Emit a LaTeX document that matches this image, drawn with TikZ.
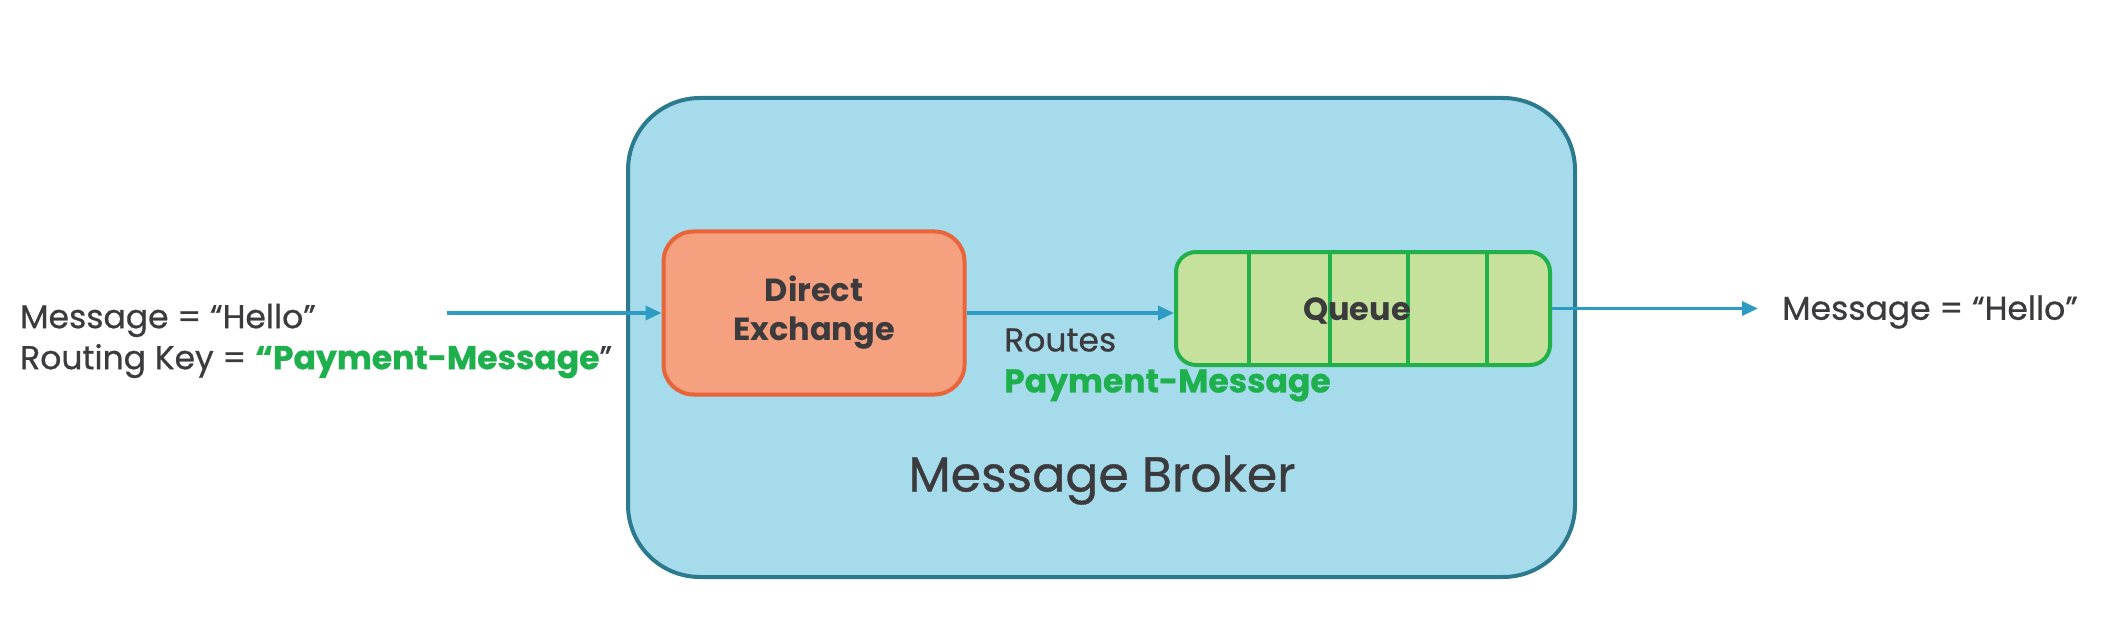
\documentclass[tikz,border=0pt]{standalone}
\usepackage{fontspec}
\setmainfont{Poppins}
\newfontfamily\medfont{Poppins}[FakeBold=0.7]
\usetikzlibrary{arrows.meta}
\definecolor{brokerfill}{HTML}{A6DBEB}
\definecolor{brokerline}{HTML}{2B7A8E}
\definecolor{exfill}{HTML}{F5A07F}
\definecolor{exline}{HTML}{E8643A}
\definecolor{qfill}{HTML}{C6E19B}
\definecolor{qline}{HTML}{22B04B}
\definecolor{arrowc}{HTML}{2E9CC2}
\definecolor{txt}{HTML}{3B3B3D}
\definecolor{grn}{HTML}{1EB04C}
\begin{document}
\begin{tikzpicture}[x=1pt,y=-1pt,
  flow/.style={draw=arrowc, line width=3.5pt, -{Triangle[length=16pt,width=14pt]}},
  lbl/.style={text=txt, font=\fontsize{33}{41}\selectfont\medfont, inner sep=0pt},
  boldlbl/.style={text=txt, font=\fontsize{32}{39}\selectfont\bfseries, inner sep=0pt, align=center},
  box/.style={line width=4pt, inner sep=0pt}]
\useasboundingbox (0,0) rectangle (2104,631);
\node[box, draw=brokerline, fill=brokerfill, rounded corners=72pt,
      minimum width=947pt, minimum height=479pt] (broker) at (1101.5,337.5) {};
\node[box, draw=exline, fill=exfill, rounded corners=30pt,
      minimum width=301pt, minimum height=163pt, boldlbl] (exch) at (814,313) {Direct\\Exchange};
\node[box, draw=qline, fill=qfill, rounded corners=20pt,
      minimum width=374pt, minimum height=113pt] (queue) at (1363,308.5) {};
\foreach \x in {1249,1330,1408,1487}
  \draw[qline, line width=4pt] (\x,0 |- queue.north) -- (\x,0 |- queue.south);
\node[boldlbl] (qlabel) at (1357,311) {Queue};
\node[lbl, anchor=west, align=left] (msgin) at (20,341)
  {Message = “Hello”\\Routing Key = \textcolor{grn}{\bfseries “Payment-Message}”};
\node[lbl, anchor=west, align=left] (routes) at (1004,365)
  {Routes\\\textcolor{grn}{\bfseries Payment-Message}};
\node[lbl, anchor=west] (msgout) at (1782,312) {Message = “Hello”};
\node[text=txt, font=\fontsize{49}{49}\selectfont\medfont, inner sep=0pt] (blabel) at (1102,480) {Message Broker};
\coordinate (in) at (447,313);
\draw[flow] (in) -- (in -| exch.west);
\draw[flow] (exch.east) -- (exch.east -| queue.west);
\draw[flow, shorten >=24pt] (queue.east) -- (queue.east -| msgout.west);
\end{tikzpicture}
\end{document}
